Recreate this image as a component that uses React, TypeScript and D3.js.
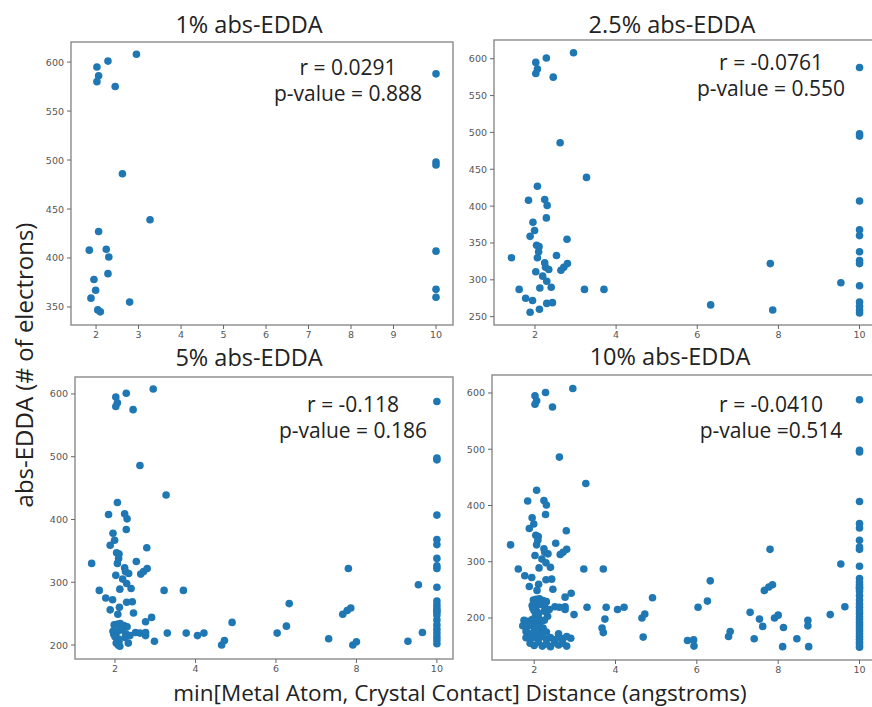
import React from 'react';
import * as d3 from 'd3';

const W = 872;
const H = 707;
const BLUE = '#1f77b4';

// points present at the 1% threshold: [distance (Å), abs-EDDA electrons]
const pts1: [number, number][] = [
  [2.02, 595], [2.28, 601], [2.95, 608], [2.06, 586], [2.02, 580], [2.45, 575],
  [2.62, 486], [3.27, 439], [2.06, 427], [1.84, 408], [2.24, 409], [2.30, 401],
  [2.28, 384], [1.95, 378], [1.99, 367], [1.88, 359], [2.79, 355], [2.04, 347],
  [2.10, 345], [10, 588], [10, 498], [10, 495], [10, 407], [10, 368], [10, 360],
];

// added at 2.5%
const add25: [number, number][] = [
  [2.09, 338], [2.06, 330], [1.42, 330], [2.53, 333], [2.24, 323], [2.26, 317],
  [2.34, 314], [2.02, 311], [2.19, 305], [2.64, 313], [2.71, 317], [2.80, 322],
  [2.29, 298], [2.40, 290], [2.12, 289], [1.61, 287], [3.22, 287], [3.70, 287],
  [1.77, 275], [1.94, 272], [2.29, 268], [2.43, 269], [2.11, 260], [1.88, 256],
  [6.33, 266], [7.80, 322], [7.86, 259], [9.54, 296],
  [10, 338], [10, 326], [10, 322], [10, 292], [10, 270], [10, 264], [10, 259], [10, 255],
];

// added at 5%
const add5: [number, number][] = [
  [2.07, 249], [2.46, 251], [2.91, 244], [2.76, 237],
  [1.98, 232], [2.05, 233], [2.13, 234], [2.22, 231], [2.30, 229], [2.18, 227],
  [1.95, 222], [2.05, 221], [2.15, 224], [2.27, 218], [1.97, 217], [2.37, 215],
  [2.00, 213], [2.08, 210], [2.25, 212], [2.10, 206], [2.03, 203], [2.33, 203],
  [2.08, 200], [2.12, 198], [2.51, 220], [2.62, 219], [2.76, 220], [2.76, 215],
  [2.98, 206], [3.30, 219], [3.77, 219], [4.05, 215], [4.21, 219], [4.65, 200],
  [4.72, 207], [4.91, 236], [6.03, 219], [6.26, 230], [7.31, 210], [7.66, 249],
  [7.77, 255], [7.91, 200], [8.00, 205], [9.28, 206], [9.64, 220],
  [10, 253], [10, 248], [10, 240], [10, 232], [10, 225], [10, 219], [10, 213],
  [10, 208], [10, 202],
];

// added at 10%
const add10: [number, number][] = [
  [1.75, 196], [1.85, 194], [1.95, 197], [2.05, 195], [2.15, 193], [2.25, 196],
  [1.72, 186], [1.82, 184], [1.92, 187], [2.02, 183], [2.12, 186], [2.22, 182],
  [1.80, 176], [1.90, 172], [2.00, 177], [2.10, 174], [2.20, 171], [2.30, 175], [2.60, 172],
  [1.80, 165], [1.90, 162], [2.00, 166], [2.10, 163], [2.20, 167], [2.30, 162],
  [2.40, 165], [2.50, 161], [2.60, 166], [2.70, 163], [2.80, 167], [2.90, 164],
  [1.90, 155], [2.00, 151], [2.10, 157], [2.20, 150], [2.30, 154], [2.40, 149],
  [2.50, 156], [2.60, 152], [2.70, 155], [2.80, 150],
  [3.74, 198], [3.67, 182], [3.70, 174], [4.68, 166], [5.77, 160], [5.92, 161],
  [5.93, 150], [6.78, 167], [6.82, 176], [7.41, 163], [7.54, 198], [7.62, 185],
  [8.13, 183], [8.11, 149], [8.46, 163], [8.73, 196], [8.73, 186], [8.75, 149],
  [10, 197], [10, 192], [10, 187], [10, 182], [10, 177], [10, 172], [10, 167],
  [10, 162], [10, 157], [10, 152], [10, 148],
];

const titles = ['1% abs-EDDA', '2.5% abs-EDDA', '5% abs-EDDA', '10% abs-EDDA'];
const rLabels = ['r = 0.0291', 'r = -0.0761', 'r = -0.118', 'r = -0.0410'];
const pLabels = ['p-value = 0.888', 'p-value = 0.550', 'p-value = 0.186', 'p-value =0.514'];
const xLimits: [number, number][] = [[1.41, 10.4], [0.99, 10.43], [1.006, 10.4], [0.963, 10.43]];
const yLimits: [number, number][] = [[331.6, 620.5], [238.7, 625.4], [177.7, 627], [125.3, 632]];
const xTicks = [
  [2, 3, 4, 5, 6, 7, 8, 9, 10],
  [2, 4, 6, 8, 10],
  [2, 4, 6, 8, 10],
  [2, 4, 6, 8, 10],
];
const yTicks = [
  [350, 400, 450, 500, 550, 600],
  [250, 300, 350, 400, 450, 500, 550, 600],
  [200, 300, 400, 500, 600],
  [200, 300, 400, 500, 600],
];

const panelData = [
  pts1,
  [...pts1, ...add25],
  [...pts1, ...add25, ...add5],
  [...pts1, ...add25, ...add5, ...add10],
];

// frame boxes and text anchors, in pixels
const boxes = [
  { l: 71, r: 453, t: 42, b: 325, tx: 249, ty: 33, ax: 348, ay: 75 },
  { l: 494, r: 877, t: 40, b: 325, tx: 672, ty: 33, ax: 771, ay: 70 },
  { l: 75, r: 453, t: 377, b: 659, tx: 249, ty: 366, ax: 353, ay: 412 },
  { l: 492, r: 877, t: 375, b: 660, tx: 670, ty: 365, ax: 771, ay: 412 },
];

const FONT = '"Open Sans", "Noto Sans", sans-serif';

const Panel = ({ i }: { i: number }) => {
  const b = boxes[i];
  const x = d3.scaleLinear().domain(xLimits[i]).range([b.l, b.r]);
  const y = d3.scaleLinear().domain(yLimits[i]).range([b.b, b.t]);
  const clipId = `clip${i}`;
  return (
    <g>
      <clipPath id={clipId}>
        <rect x={b.l} y={b.t} width={b.r - b.l} height={b.b - b.t} />
      </clipPath>
      <g clipPath={`url(#${clipId})`}>
        {panelData[i].map((d, k) => (
          <circle key={k} cx={x(d[0])} cy={y(d[1])} r={3.8} fill={BLUE} />
        ))}
      </g>
      <rect x={b.l} y={b.t} width={b.r - b.l} height={b.b - b.t} fill="none" stroke="#8a8a8a" strokeWidth={1.4} />
      {xTicks[i].map((t) => (
        <g key={'x' + t}>
          <line x1={x(t)} x2={x(t)} y1={b.b} y2={b.b + 4} stroke="#666" strokeWidth={1} />
          <text x={x(t)} y={b.b + 12.5} textAnchor="middle" fontSize={9.5} fill="#555" fontFamily="DejaVu Sans, sans-serif">{t}</text>
        </g>
      ))}
      {yTicks[i].map((t) => (
        <g key={'y' + t}>
          <line x1={b.l - 4} x2={b.l} y1={y(t)} y2={y(t)} stroke="#666" strokeWidth={1} />
          <text x={b.l - 7} y={y(t) + 3.5} textAnchor="end" fontSize={9.5} fill="#555" fontFamily="DejaVu Sans, sans-serif">{t}</text>
        </g>
      ))}
      <text x={b.tx} y={b.ty} textAnchor="middle" fontSize={23.5} fill="#222" fontFamily={FONT}>{titles[i]}</text>
      <text x={b.ax} y={b.ay} textAnchor="middle" fontSize={21} fill="#222" fontFamily={FONT}>{rLabels[i]}</text>
      <text x={b.ax} y={b.ay + 26} textAnchor="middle" fontSize={21} fill="#222" fontFamily={FONT}>{pLabels[i]}</text>
    </g>
  );
};

const App = () => {
  return (
    <svg width={W} height={H} style={{ position: 'absolute', left: 0, top: 0, background: '#fff' }}>
      <rect x={0} y={0} width={W} height={H} fill="#fff" />
      {[0, 1, 2, 3].map((i) => <Panel key={i} i={i} />)}
      <text transform="translate(33,365) rotate(-90)" textAnchor="middle" fontSize={24} fill="#222" fontFamily={FONT}>
        abs-EDDA (# of electrons)
      </text>
      <text x={460} y={701} textAnchor="middle" fontSize={22.5} fill="#222" fontFamily={FONT}>
        min[Metal Atom, Crystal Contact] Distance (angstroms)
      </text>
    </svg>
  );
};

export default App;
